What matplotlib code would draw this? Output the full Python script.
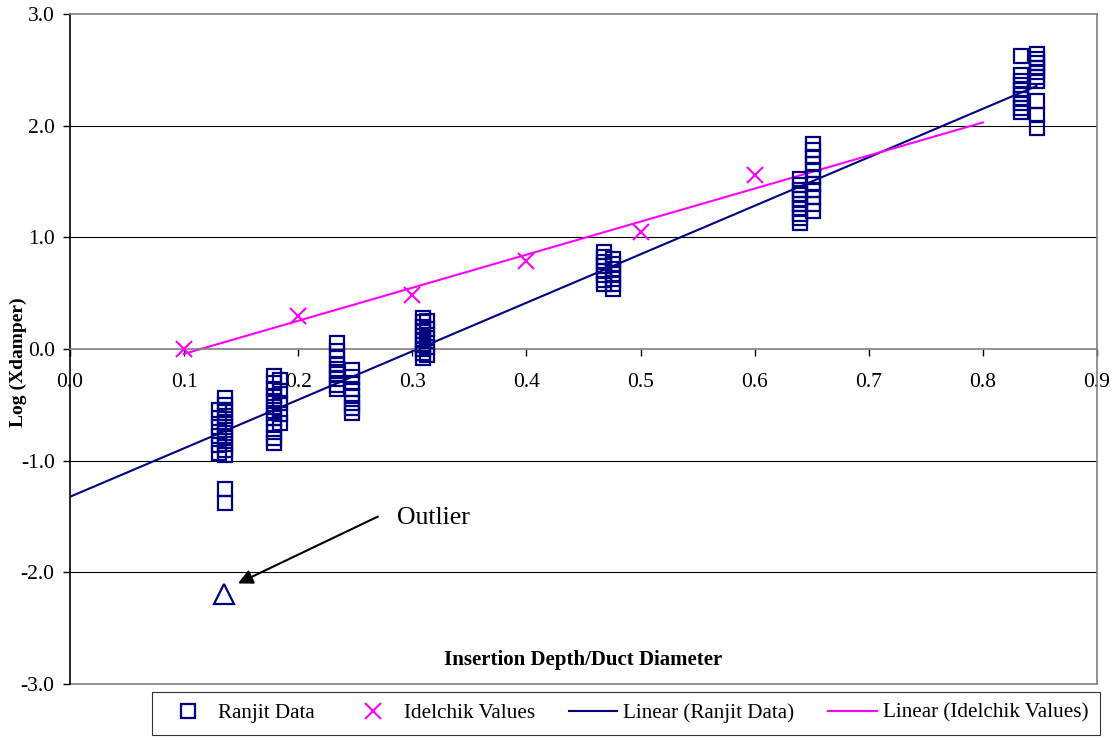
import numpy as np
import matplotlib
matplotlib.use("Agg")
import matplotlib.pyplot as plt
from matplotlib.lines import Line2D

plt.rcParams['font.family'] = ['Liberation Serif', 'DejaVu Serif']

# ---- data ----
ranjit_x = [0.136, 0.131, 0.179, 0.184, 0.234, 0.247, 0.309, 0.313,
            0.468, 0.476, 0.640, 0.651, 0.833, 0.847]
ranjit_y = [
    [-0.44, -0.50, -0.55, -0.60, -0.65, -0.70, -0.75, -0.80, -0.85, -0.90, -0.95, -1.25, -1.38],
    [-0.55, -0.62, -0.70, -0.78, -0.86, -0.93],
    [-0.24, -0.30, -0.36, -0.42, -0.47, -0.52, -0.57, -0.62, -0.68, -0.74, -0.80, -0.84],
    [-0.28, -0.38, -0.48, -0.58, -0.66],
    [0.05, -0.02, -0.08, -0.13, -0.18, -0.22, -0.27, -0.32, -0.36],
    [-0.19, -0.25, -0.30, -0.36, -0.42, -0.48, -0.53, -0.57],
    [0.28, 0.24, 0.20, 0.16, 0.12, 0.08, 0.04, 0.00, -0.04, -0.08],
    [0.25, 0.18, 0.10, 0.02, -0.05],
    [0.87, 0.82, 0.78, 0.74, 0.70, 0.66, 0.62, 0.58],
    [0.81, 0.76, 0.72, 0.67, 0.63, 0.58, 0.54],
    [1.52, 1.47, 1.42, 1.38, 1.34, 1.30, 1.26, 1.21, 1.17, 1.13],
    [1.84, 1.78, 1.72, 1.66, 1.60, 1.54, 1.48, 1.42, 1.36, 1.30, 1.24],
    [2.62, 2.45, 2.40, 2.36, 2.32, 2.28, 2.24, 2.20, 2.16, 2.12],
    [2.64, 2.60, 2.56, 2.52, 2.48, 2.44, 2.40, 2.22, 2.10, 1.98],
]
outlier_x = [0.135]
outlier_y = [-2.19]

idelchik_x = [0.1, 0.2, 0.3, 0.4, 0.5, 0.6]
idelchik_y = [0.00, 0.30, 0.48, 0.79, 1.05, 1.56]

x_ticks = [0.0, 0.1, 0.2, 0.3, 0.4, 0.5, 0.6, 0.7, 0.8, 0.9]
y_ticks = [-3.0, -2.0, -1.0, 0.0, 1.0, 2.0, 3.0]

NAVY = '#000080'
MAG = '#FF00FF'

# flatten ranjit
rx = np.concatenate([[x] * len(ys) for x, ys in zip(ranjit_x, ranjit_y)])
ry = np.concatenate([np.array(ys) for ys in ranjit_y])

fig = plt.figure(figsize=(11.17, 7.40), dpi=100)
ax = fig.add_axes([70 / 1117, 1 - 684 / 740, (1097 - 70) / 1117, (684 - 14) / 740])

ax.set_xlim(0, 0.9)
ax.set_ylim(-3, 3)

for yv in [-2.0, -1.0, 1.0, 2.0]:
    ax.axhline(yv, color='black', lw=0.8, zorder=1)
ax.axhline(-3.0, color='#808080', lw=1.2, zorder=1, clip_on=False)

# data
ax.plot(rx, ry, linestyle='none', marker='s', ms=10.5, mfc='none', mec=NAVY, mew=1.6, zorder=3)
ax.plot(outlier_x, outlier_y, linestyle='none', marker='^', ms=14, mfc='none', mec=NAVY, mew=1.6, zorder=3)
ax.plot(idelchik_x, idelchik_y, linestyle='none', marker='x', ms=11, mec=MAG, mew=1.5, zorder=4)

# linear trend lines
p_r = np.polyfit(rx, ry, 1)
xr = np.array([0.0, max(ranjit_x)])
ax.plot(xr, np.polyval(p_r, xr), color=NAVY, lw=1.5, zorder=2)
p_i = np.polyfit(idelchik_x, idelchik_y, 1)
xi = np.array([min(idelchik_x), 0.8])
ax.plot(xi, np.polyval(p_i, xi), color=MAG, lw=1.5, zorder=2)

# axes styling
ax.spines['bottom'].set_position(('data', 0))
ax.spines['bottom'].set_color('#808080')
ax.spines['top'].set_color('#808080')
ax.spines['right'].set_color('#808080')
ax.spines['left'].set_color('black')
for s in ax.spines.values():
    s.set_linewidth(1.2)

ax.set_xticks(x_ticks)
ax.set_xticklabels([f'{v:.1f}' for v in x_ticks])
ax.set_yticks(y_ticks)
ax.set_yticklabels([f'{v:.1f}' for v in y_ticks])
ax.tick_params(axis='both', direction='out', length=5, width=1, labelsize=15.5)
ax.tick_params(axis='y', pad=6)
ax.tick_params(axis='x', pad=12, colors='black')

ax.set_ylabel('Log (Xdamper)', fontsize=14, fontweight='bold')
ax.yaxis.set_label_coords((27 - 70) / 1027, 0.48)
ax.text(0.5, (684 - 660) / 670, 'Insertion Depth/Duct Diameter', transform=ax.transAxes,
        ha='center', va='center', fontsize=15, fontweight='bold')

# annotation
ax.annotate('', xy=(0.145, -2.11), xytext=(0.272, -1.49),
            arrowprops=dict(arrowstyle='-|>', color='black', lw=1.5, mutation_scale=22))
ax.text(0.287, -1.51, 'Outlier', fontsize=18.5, ha='left', va='center')

# legend
handles = [
    Line2D([], [], linestyle='none', marker='s', ms=10, mfc='none', mec=NAVY, mew=1.6),
    Line2D([], [], linestyle='none', marker='x', ms=11, mec=MAG, mew=1.5),
    Line2D([], [], color=NAVY, lw=1.5),
    Line2D([], [], color=MAG, lw=1.5),
]
labels = ['Ranjit Data', 'Idelchik Values', 'Linear (Ranjit Data)', 'Linear (Idelchik Values)']
leg = fig.legend(handles, labels, loc='center', ncol=4,
                 bbox_to_anchor=((155 + 1097) / 2 / 1117, 1 - 713 / 740),
                 fontsize=15.2, frameon=True, fancybox=False, edgecolor='black',
                 handlelength=2.3, columnspacing=1.6, borderpad=0.55, handletextpad=0.3,
                 borderaxespad=0)
leg.get_frame().set_linewidth(0.8)

fig.savefig('out.png', dpi=100)
